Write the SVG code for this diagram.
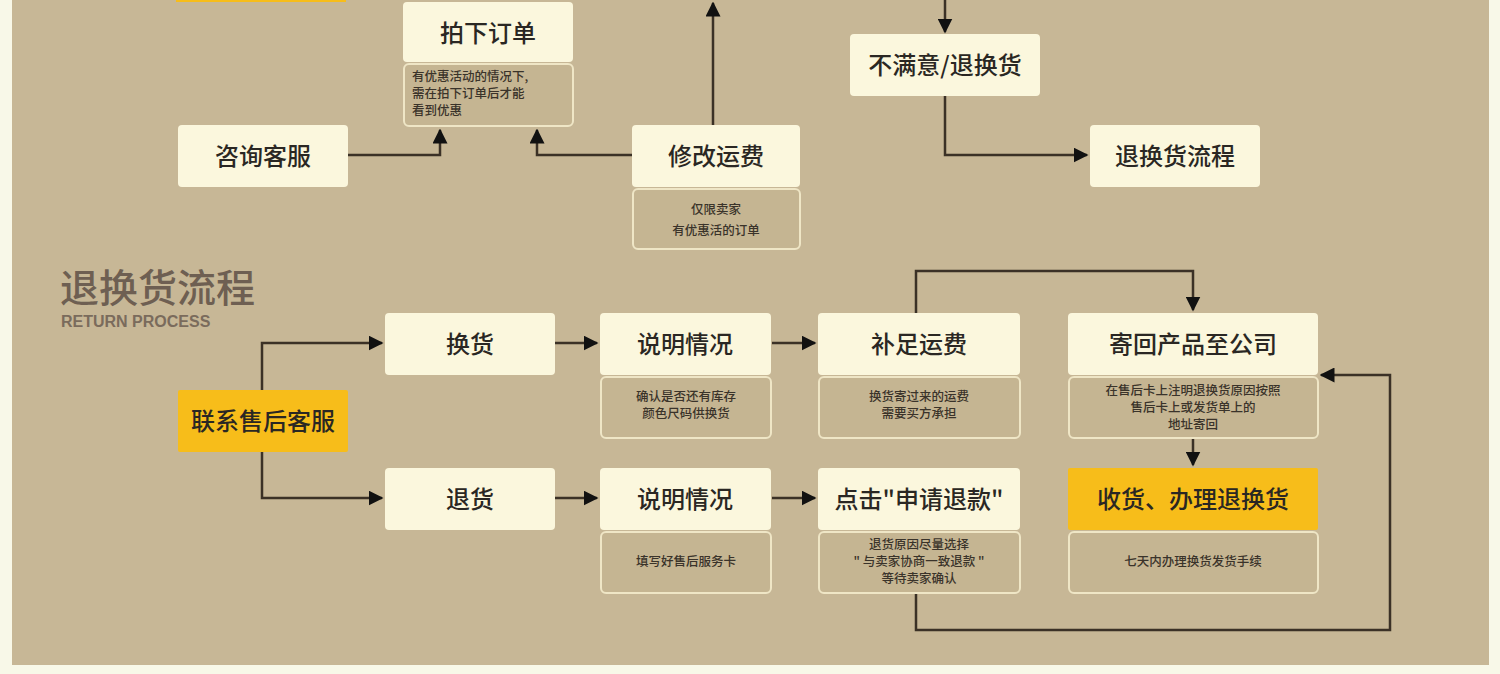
<svg xmlns="http://www.w3.org/2000/svg" width="1500" height="674" viewBox="0 0 1500 674">
<defs>
<marker id="ah" viewBox="0 0 10 10" refX="9" refY="5" markerWidth="6" markerHeight="6" markerUnits="strokeWidth" orient="auto">
<path d="M0,0 L10,5 L0,10 Z" fill="#111"/>
</marker>
</defs>
<style>
.box{fill:#fbf7dd;rx:4px}
.ybox{fill:#f7bd1a;rx:2px}
.sub{fill:#c5b592;stroke:#efe6c6;stroke-width:2;rx:5px}
.t{font-family:"Noto Sans CJK SC","Noto Sans",sans-serif;font-size:24px;fill:#2a2723;text-anchor:middle;font-weight:500}
.s{font-family:"Noto Sans CJK SC","Noto Sans",sans-serif;font-size:12.5px;fill:#3a332a;text-anchor:middle;font-weight:500}
.c{fill:none;stroke:#3b3126;stroke-width:2.5}
</style>
<rect width="1500" height="674" fill="#f8f8e8"/>
<rect x="12" y="0" width="1477" height="665" fill="#c7b796"/>

<g id="top-partials">
<rect x="176" y="-20" width="170" height="22" fill="#f7bd1a"/>
<rect x="632" y="-20" width="168" height="20" class="box"/>
<rect x="862" y="-20" width="168" height="20" class="box"/>
<rect x="1092" y="-20" width="168" height="20" class="box"/>
</g>

<g id="connectors">
<path class="c" d="M348,155 H440 V130" marker-end="url(#ah)"/>
<path class="c" d="M632,155 H537 V130" marker-end="url(#ah)"/>
<path class="c" d="M713,125 V3" marker-end="url(#ah)"/>
<path class="c" d="M945,0 V32" marker-end="url(#ah)"/>
<path class="c" d="M945,96 V155 H1087" marker-end="url(#ah)"/>
<path class="c" d="M262,390 V343 H382" marker-end="url(#ah)"/>
<path class="c" d="M262,452 V498 H382" marker-end="url(#ah)"/>
<path class="c" d="M555,343 H597" marker-end="url(#ah)"/>
<path class="c" d="M772,343 H815" marker-end="url(#ah)"/>
<path class="c" d="M555,498 H597" marker-end="url(#ah)"/>
<path class="c" d="M772,498 H815" marker-end="url(#ah)"/>
<path class="c" d="M916,313 V271 H1193 V310" marker-end="url(#ah)"/>
<path class="c" d="M1193,438 V465" marker-end="url(#ah)"/>
<path class="c" d="M916,593 V630 H1390 V375 H1321" marker-end="url(#ah)"/>
</g>

<g id="n-paixia">
<rect x="403" y="2" width="170" height="60" class="box"/>
<text x="488" y="42" class="t">拍下订单</text>
<rect x="404" y="64" width="169" height="62" class="sub"/>
<text x="412" y="81" class="s" style="text-anchor:start">有优惠活动的情况下,</text>
<text x="412" y="98" class="s" style="text-anchor:start">需在拍下订单后才能</text>
<text x="412" y="115" class="s" style="text-anchor:start">看到优惠</text>
</g>

<g id="n-zixun">
<rect x="178" y="125" width="170" height="62" class="box"/>
<text x="263" y="165" class="t">咨询客服</text>
</g>

<g id="n-xiugai">
<rect x="632" y="125" width="168" height="62" class="box"/>
<text x="716" y="165" class="t">修改运费</text>
<rect x="633" y="189" width="167" height="60" class="sub"/>
<text x="716" y="214" class="s">仅限卖家</text>
<text x="716" y="235" class="s">有优惠活的订单</text>
</g>

<g id="n-bumanyi">
<rect x="850" y="34" width="190" height="62" class="box"/>
<text x="945" y="74" class="t">不满意/退换货</text>
</g>

<g id="n-liucheng">
<rect x="1090" y="125" width="170" height="62" class="box"/>
<text x="1175" y="165" class="t">退换货流程</text>
</g>

<g id="title">
<text x="60" y="302" style="font-family:'Noto Sans CJK SC',sans-serif;font-size:39px;font-weight:500;fill:#6e5f52">退换货流程</text>
<text x="61" y="327" style="font-family:'Liberation Sans',Arial,sans-serif;font-size:16px;font-weight:bold;fill:#7a6b5c">RETURN PROCESS</text>
</g>

<g id="n-lianxi">
<rect x="178" y="390" width="170" height="62" class="ybox"/>
<text x="263" y="430" class="t">联系售后客服</text>
</g>

<g id="n-huanhuo">
<rect x="385" y="313" width="170" height="62" class="box"/>
<text x="470" y="353" class="t">换货</text>
</g>

<g id="n-tuihuo">
<rect x="385" y="468" width="170" height="62" class="box"/>
<text x="470" y="508" class="t">退货</text>
</g>

<g id="n-shuoming1">
<rect x="600" y="313" width="171" height="62" class="box"/>
<text x="685" y="353" class="t">说明情况</text>
<rect x="601" y="377" width="170" height="61" class="sub"/>
<text x="686" y="401" class="s">确认是否还有库存</text>
<text x="686" y="418" class="s">颜色尺码供换货</text>
</g>

<g id="n-buzu">
<rect x="818" y="313" width="202" height="62" class="box"/>
<text x="919" y="353" class="t">补足运费</text>
<rect x="819" y="377" width="201" height="61" class="sub"/>
<text x="919" y="401" class="s">换货寄过来的运费</text>
<text x="919" y="418" class="s">需要买方承担</text>
</g>

<g id="n-jihui">
<rect x="1068" y="313" width="250" height="62" class="box"/>
<text x="1193" y="353" class="t">寄回产品至公司</text>
<rect x="1069" y="377" width="249" height="61" class="sub"/>
<text x="1193" y="395" class="s">在售后卡上注明退换货原因按照</text>
<text x="1193" y="412" class="s">售后卡上或发货单上的</text>
<text x="1193" y="429" class="s">地址寄回</text>
</g>

<g id="n-shuoming2">
<rect x="600" y="468" width="171" height="62" class="box"/>
<text x="685" y="508" class="t">说明情况</text>
<rect x="601" y="532" width="170" height="61" class="sub"/>
<text x="686" y="566" class="s">填写好售后服务卡</text>
</g>

<g id="n-dianji">
<rect x="818" y="468" width="202" height="62" class="box"/>
<text x="919" y="508" class="t">点击"申请退款"</text>
<rect x="819" y="532" width="201" height="61" class="sub"/>
<text x="919" y="549" class="s">退货原因尽量选择</text>
<text x="919" y="566" class="s">" 与卖家协商一致退款 "</text>
<text x="919" y="583" class="s">等待卖家确认</text>
</g>

<g id="n-shouhuo">
<rect x="1068" y="468" width="250" height="62" class="ybox"/>
<text x="1193" y="508" class="t">收货、办理退换货</text>
<rect x="1069" y="532" width="249" height="61" class="sub"/>
<text x="1193" y="566" class="s">七天内办理换货发货手续</text>
</g>
</svg>
